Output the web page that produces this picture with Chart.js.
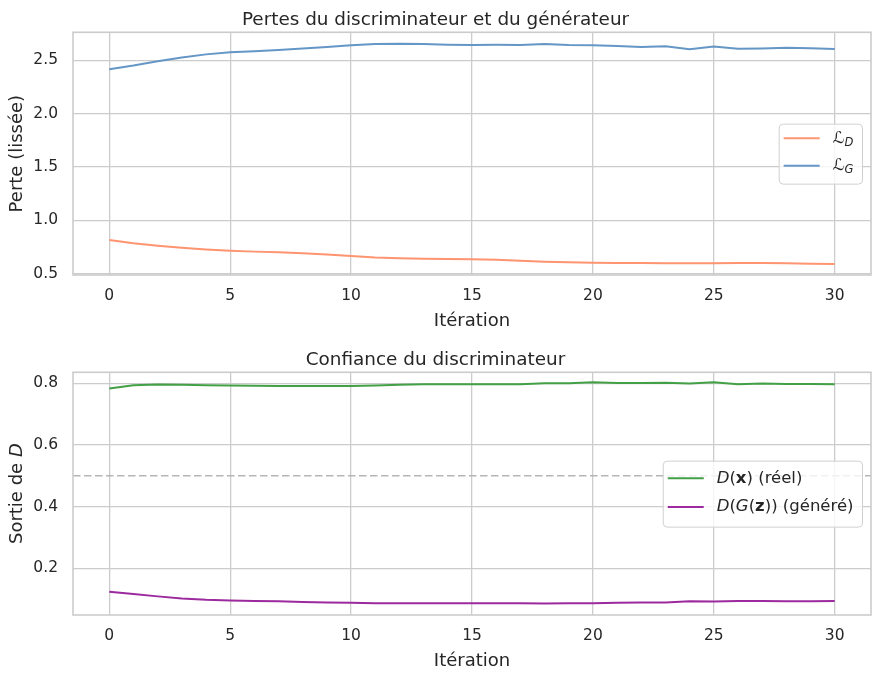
<!DOCTYPE html>
<html><head><meta charset="utf-8">
<script src="https://cdn.jsdelivr.net/npm/chart.js@4.4.1/dist/chart.umd.min.js"></script>
<style>
html,body{margin:0;padding:0;background:#fff;}
#wrap{position:relative;width:880px;height:680px;background:#fff;}
canvas{position:absolute;left:0;}
</style></head><body>
<div id="wrap">
<canvas id="c1" width="880" height="340" style="top:0px"></canvas>
<canvas id="c2" width="880" height="340" style="top:340px"></canvas>
</div>
<script>
// ---------- data ----------
const iterations = [0,1,2,3,4,5,6,7,8,9,10,11,12,13,14,15,16,17,18,19,20,21,22,23,24,25,26,27,28,29,30];
const lossD = [0.815,0.785,0.763,0.743,0.727,0.715,0.707,0.702,0.692,0.680,0.667,0.653,0.645,0.641,0.638,0.636,0.632,0.622,0.612,0.607,0.603,0.601,0.600,0.598,0.597,0.598,0.600,0.600,0.597,0.593,0.590];
const lossG = [2.416,2.450,2.490,2.525,2.555,2.575,2.585,2.595,2.610,2.625,2.640,2.652,2.655,2.652,2.646,2.643,2.645,2.643,2.652,2.642,2.640,2.633,2.624,2.632,2.603,2.628,2.607,2.610,2.617,2.612,2.606];
const dReal = [0.783,0.794,0.796,0.795,0.794,0.793,0.792,0.791,0.791,0.791,0.791,0.793,0.795,0.797,0.797,0.797,0.797,0.797,0.800,0.800,0.803,0.801,0.801,0.802,0.799,0.803,0.797,0.799,0.798,0.798,0.797];
const dFake = [0.124,0.117,0.109,0.102,0.098,0.096,0.094,0.093,0.091,0.089,0.088,0.087,0.087,0.087,0.087,0.087,0.087,0.087,0.086,0.087,0.087,0.088,0.089,0.089,0.093,0.092,0.094,0.094,0.093,0.093,0.094];
const xTicks = [0,5,10,15,20,25,30];
const lossTicks = [0.5,1.0,1.5,2.0,2.5];
const dTicks = [0.2,0.4,0.6,0.8];
const threshold = 0.5;

const FONT = '"DejaVu Sans", "Liberation Sans", sans-serif';
const TXT = '#262626';
const GRID = '#cccccc';
const LABEL_SIZE = 18;
const TICK_SIZE = 15.5;
const LEG_SIZE = 16.5;

function pts(ys){ return iterations.map((x,i)=>({x:x, y:ys[i]})); }

function drawRich(ctx, segs, x, y, size){
  let cx = x;
  ctx.textBaseline = 'middle';
  ctx.textAlign = 'left';
  for (const s of segs){
    const sz = s.sub ? size*0.7 : size;
    ctx.font = (s.it?'italic ':'') + (s.bd?'bold ':'') + sz + 'px ' + FONT;
    const dy = s.sub ? size*0.28 : 0;
    ctx.fillText(s.t, cx, y + dy);
    cx += ctx.measureText(s.t).width;
  }
  return cx - x;
}
function richWidth(ctx, segs, size){
  let w = 0;
  for (const s of segs){
    const sz = s.sub ? size*0.7 : size;
    ctx.font = (s.it?'italic ':'') + (s.bd?'bold ':'') + sz + 'px ' + FONT;
    w += ctx.measureText(s.t).width;
  }
  return w;
}

const decor = {
  id: 'decor',
  afterDraw(chart, args, opts){
    const ctx = chart.ctx, a = chart.chartArea;
    ctx.save();
    ctx.strokeStyle = GRID; ctx.lineWidth = 1.6;
    ctx.strokeRect(a.left, a.top, a.right-a.left, a.bottom-a.top);
    if (opts.yTitle){
      ctx.fillStyle = TXT;
      const w = richWidth(ctx, opts.yTitle, LABEL_SIZE);
      ctx.translate(17.5, (a.top+a.bottom)/2);
      ctx.rotate(-Math.PI/2);
      drawRich(ctx, opts.yTitle, -w/2, 0, LABEL_SIZE);
      ctx.setTransform(1,0,0,1,0,0);
    }
    const L = opts.legend;
    if (L){
      const size = LEG_SIZE;
      let tw = 0;
      for (const it of L.items) tw = Math.max(tw, richWidth(ctx, it.segs, size));
      const bw = 5 + 36 + 13 + tw + 8.5;
      const bh = L.height;
      const bx = a.right - 9 - bw;
      const by = (a.top + a.bottom)/2 - bh/2;
      ctx.fillStyle = 'rgba(255,255,255,0.8)';
      ctx.strokeStyle = '#d0d0d0'; ctx.lineWidth = 1;
      ctx.beginPath();
      ctx.roundRect(bx+0.5, by+0.5, bw, bh, 4);
      ctx.fill(); ctx.stroke();
      L.items.forEach((it, i) => {
        const ry = by + L.rows[i];
        ctx.strokeStyle = it.color; ctx.lineWidth = 2;
        ctx.beginPath(); ctx.moveTo(bx+5, ry); ctx.lineTo(bx+41, ry); ctx.stroke();
        ctx.fillStyle = TXT;
        drawRich(ctx, it.segs, bx+54, ry, size);
      });
    }
    ctx.restore();
  }
};

function makeChart(id, datasets, yMin, yMax, yTickVals, title, yTitleText, decorOpts){
  return new Chart(document.getElementById(id), {
    type: 'line',
    data: { datasets: datasets },
    options: {
      responsive: false, animation: false, devicePixelRatio: 1,
      layout: { padding: { left: 0, right: 9, top: 0, bottom: 0 } },
      plugins: {
        legend: { display: false },
        tooltip: { enabled: false },
        title: { display: true, text: title, color: TXT,
                 font: { family: FONT, size: 18.4, weight: 'normal', lineHeight: 1.2 },
                 padding: { top: 9, bottom: 1.2 } },
        decor: decorOpts
      },
      elements: { point: { radius: 0 }, line: { tension: 0, borderWidth: 2 } },
      scales: {
        x: {
          type: 'linear', min: -1.5, max: 31.5,
          afterBuildTicks: s => { s.ticks = xTicks.map(v => ({ value: v })); },
          afterFit: s => { s.height = 65; },
          grid: { color: GRID, lineWidth: 1.3, drawTicks: false },
          border: { display: false },
          ticks: { color: TXT, font: { family: FONT, size: TICK_SIZE }, padding: 12, maxRotation: 0,
                   callback: v => String(v) },
          title: { display: true, text: 'Itération', color: TXT,
                   font: { family: FONT, size: LABEL_SIZE }, padding: { top: 0, bottom: 8 } }
        },
        y: {
          type: 'linear', min: yMin, max: yMax,
          afterBuildTicks: s => { s.ticks = yTickVals.map(v => ({ value: v })); },
          afterFit: s => { s.width = 73; },
          grid: { color: GRID, lineWidth: 1.3, drawTicks: false },
          border: { display: false },
          ticks: { color: TXT, font: { family: FONT, size: TICK_SIZE }, padding: 15,
                   callback: v => Number(v).toFixed(1) },
          title: { display: !!yTitleText, text: yTitleText || '', color: TXT,
                   font: { family: FONT, size: LABEL_SIZE }, padding: { top: 6.7, bottom: 0 } }
        }
      }
    },
    plugins: [decor]
  });
}

const cOrange = '#ff9470', cBlue = '#6496c6', cGreen = '#43a047', cPurple = '#9c2a9e';

makeChart('c1', [
  { label: 'L_D', data: pts(lossD), borderColor: cOrange },
  { label: 'L_G', data: pts(lossG), borderColor: cBlue }
], 0.488, 2.762, lossTicks, 'Pertes du discriminateur et du générateur', 'Perte (lissée)', {
  legend: { height: 60, rows: [14.7, 42], items: [
    { color: cOrange, segs: [{t:'ℒ'},{t:'D', it:true, sub:true}] },
    { color: cBlue,   segs: [{t:'ℒ'},{t:'G', it:true, sub:true}] }
  ]}
});

makeChart('c2', [
  { label: 'seuil', data: [{x:-1.5, y:threshold},{x:31.5, y:threshold}], borderColor: '#b5b5b5',
    borderWidth: 1.5, borderDash: [7.5, 3.5], order: 5 },
  { label: 'D(x) (réel)', data: pts(dReal), borderColor: cGreen, order: 1 },
  { label: 'D(G(z)) (généré)', data: pts(dFake), borderColor: cPurple, order: 1 }
], 0.0486, 0.8357, dTicks, 'Confiance du discriminateur', null, {
  yTitle: [{t:'Sortie de '},{t:'D', it:true}],
  legend: { height: 66, rows: [17.7, 46.3], items: [
    { color: cGreen,  segs: [{t:'D', it:true},{t:'('},{t:'x', bd:true},{t:') (réel)'}] },
    { color: cPurple, segs: [{t:'D', it:true},{t:'('},{t:'G', it:true},{t:'('},{t:'z', bd:true},{t:')) (généré)'}] }
  ]}
});
</script>
</body></html>
